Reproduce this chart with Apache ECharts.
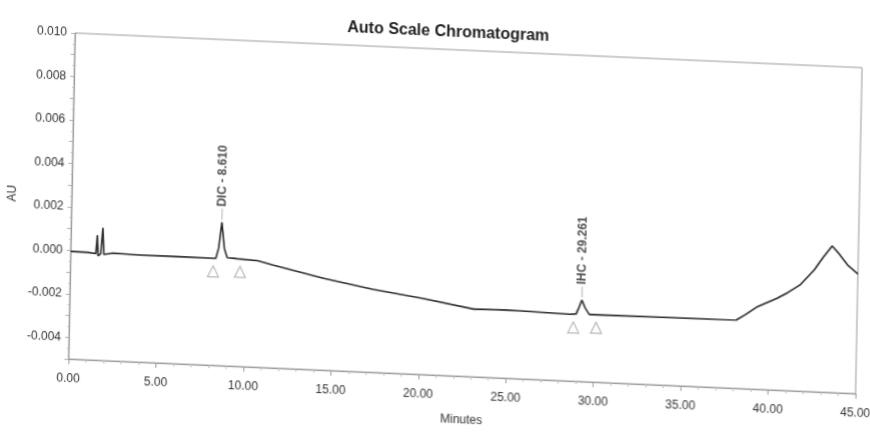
<!DOCTYPE html>
<html>
<head>
<meta charset="utf-8">
<script src="https://cdn.jsdelivr.net/npm/echarts@6/dist/echarts.min.js"></script>
<style>
  html, body { margin: 0; padding: 0; background: #fff; overflow: hidden; }
  #wrap { position: relative; width: 870px; height: 432px; overflow: hidden; background: #fff; }
  #chart {
    position: absolute; left: 0; top: 0;
    width: 900px; height: 432px;
    /* slight skew of the scanned printout */
    transform-origin: 75px 33px;
    transform: matrix(1, 0.044, -0.02, 1, 0, 0);
  }
</style>
</head>
<body>
<div id="wrap"><div id="chart"></div></div>
<script>
// Chromatogram trace: retention time (min) and detector response (AU)
const minutes = [
  0.00, 1.00, 1.44, 1.51, 1.57, 1.72, 1.82, 1.90, 2.40, 4.00, 6.00, 8.00, 8.30,
  8.45, 8.61, 8.78, 8.95, 9.50, 10.70, 11.60, 14.50, 17.30, 20.20, 23.10, 25.00,
  28.60, 28.95, 29.10, 29.261, 29.45, 29.70, 30.30, 34.00, 38.10, 38.60, 39.30,
  40.40, 41.00, 41.70, 42.50, 43.00, 43.50, 43.90, 44.40, 45.00
];
const absorbance = [
  -0.00005, -0.00006, -0.00010, 0.00075, -0.00020, -0.00010, 0.00110, -0.00012, -0.00004, -0.00008, -0.00007, -0.00008, -0.00008,
  0.00040, 0.00160, 0.00040, -0.00002, -0.00005, -0.00010, -0.00027, -0.00078, -0.00118, -0.00150, -0.00189, -0.00186,
  -0.00193, -0.00190, -0.00160, -0.00125, -0.00160, -0.00190, -0.00190, -0.00188, -0.00186, -0.00160, -0.00120,
  -0.00078, -0.00050, -0.00012, 0.00060, 0.00120, 0.00174, 0.00140, 0.00090, 0.00050
];

// Identified peaks
const peakNames = ['DIC - 8.610', 'IHC - 29.261'];
const peakTimes = [8.61, 29.261];
const peakHeights = [0.00160, -0.00125];

// Integration start / end markers
const markerTimes = [8.16, 9.70, 28.80, 30.10];
const markerLevels = [-0.00008, -0.00005, -0.00193, -0.00190];

// Axis ranges
const xMin = 0, xMax = 45, xStep = 5;
const yMin = -0.005, yMax = 0.010, yStep = 0.001;

const FONT = '"Liberation Sans", Arial, sans-serif';

const chart = echarts.init(document.getElementById('chart'), null, { renderer: 'canvas' });

chart.setOption({
  animation: false,
  backgroundColor: '#ffffff',
  title: {
    text: 'Auto Scale Chromatogram',
    left: 342, top: 3,
    textStyle: { fontFamily: FONT, fontSize: 16, fontWeight: 'bold', color: '#222' }
  },
  grid: {
    left: 75, top: 33, width: 787, height: 326,
    outerBoundsMode: 'none',
    show: true, borderColor: '#9a9a9a', borderWidth: 1
  },
  xAxis: {
    type: 'value', min: xMin, max: xMax, interval: xStep,
    name: 'Minutes', nameLocation: 'middle', nameGap: 38,
    nameTextStyle: { fontFamily: FONT, fontSize: 12, color: '#333' },
    axisLine: { onZero: false, lineStyle: { color: '#9a9a9a' } },
    axisTick: { show: true, length: 5, lineStyle: { color: '#9a9a9a' } },
    minorTick: { show: true, splitNumber: 5, length: 3, lineStyle: { color: '#c0c0c0' } },
    splitLine: { show: false },
    axisLabel: {
      margin: 14, fontFamily: FONT, fontSize: 12, color: '#333',
      formatter: v => v.toFixed(2)
    }
  },
  yAxis: {
    type: 'value', min: yMin, max: yMax, interval: yStep,
    name: 'AU', nameLocation: 'middle', nameGap: 48, nameRotate: 90,
    nameTextStyle: { fontFamily: FONT, fontSize: 12, color: '#333' },
    axisLine: { show: true, lineStyle: { color: '#9a9a9a' } },
    axisTick: { show: true, length: 4, lineStyle: { color: '#b0b0b0' } },
    minorTick: { show: true, splitNumber: 2, length: 2, lineStyle: { color: '#c8c8c8' } },
    splitLine: { show: false },
    axisLabel: {
      margin: 8, fontFamily: FONT, fontSize: 12, color: '#333',
      formatter: v => (Math.round(v * 1000) % 2 === 0 ? v.toFixed(3) : '')
    }
  },
  series: [
    {
      name: 'trace', type: 'line',
      data: minutes.map((t, i) => [t, absorbance[i]]),
      showSymbol: false, symbol: 'none',
      lineStyle: { color: '#2a2a2a', width: 1.6 },
      z: 3
    },
    {
      name: 'markers', type: 'scatter',
      data: markerTimes.map((t, i) => [t, markerLevels[i]]),
      symbol: 'triangle', symbolSize: [11, 11], symbolOffset: [0, 13],
      itemStyle: { color: 'rgba(0,0,0,0)', borderColor: '#a8a8a8', borderWidth: 1.2 },
      z: 2
    },
    {
      name: 'peaks', type: 'scatter',
      data: peakTimes.map((t, i) => ({ value: [t, peakHeights[i]], name: peakNames[i] })),
      symbol: 'rect', symbolSize: [1, 11], symbolOffset: [0, -8],
      itemStyle: { color: '#a0a0a0' },
      label: {
        show: true, position: 'top', distance: 2, rotate: 90,
        align: 'left', verticalAlign: 'middle',
        formatter: '{b}', fontFamily: FONT, fontSize: 12, fontWeight: 'bold', color: '#222'
      },
      z: 4
    }
  ]
});
</script>
</body>
</html>
